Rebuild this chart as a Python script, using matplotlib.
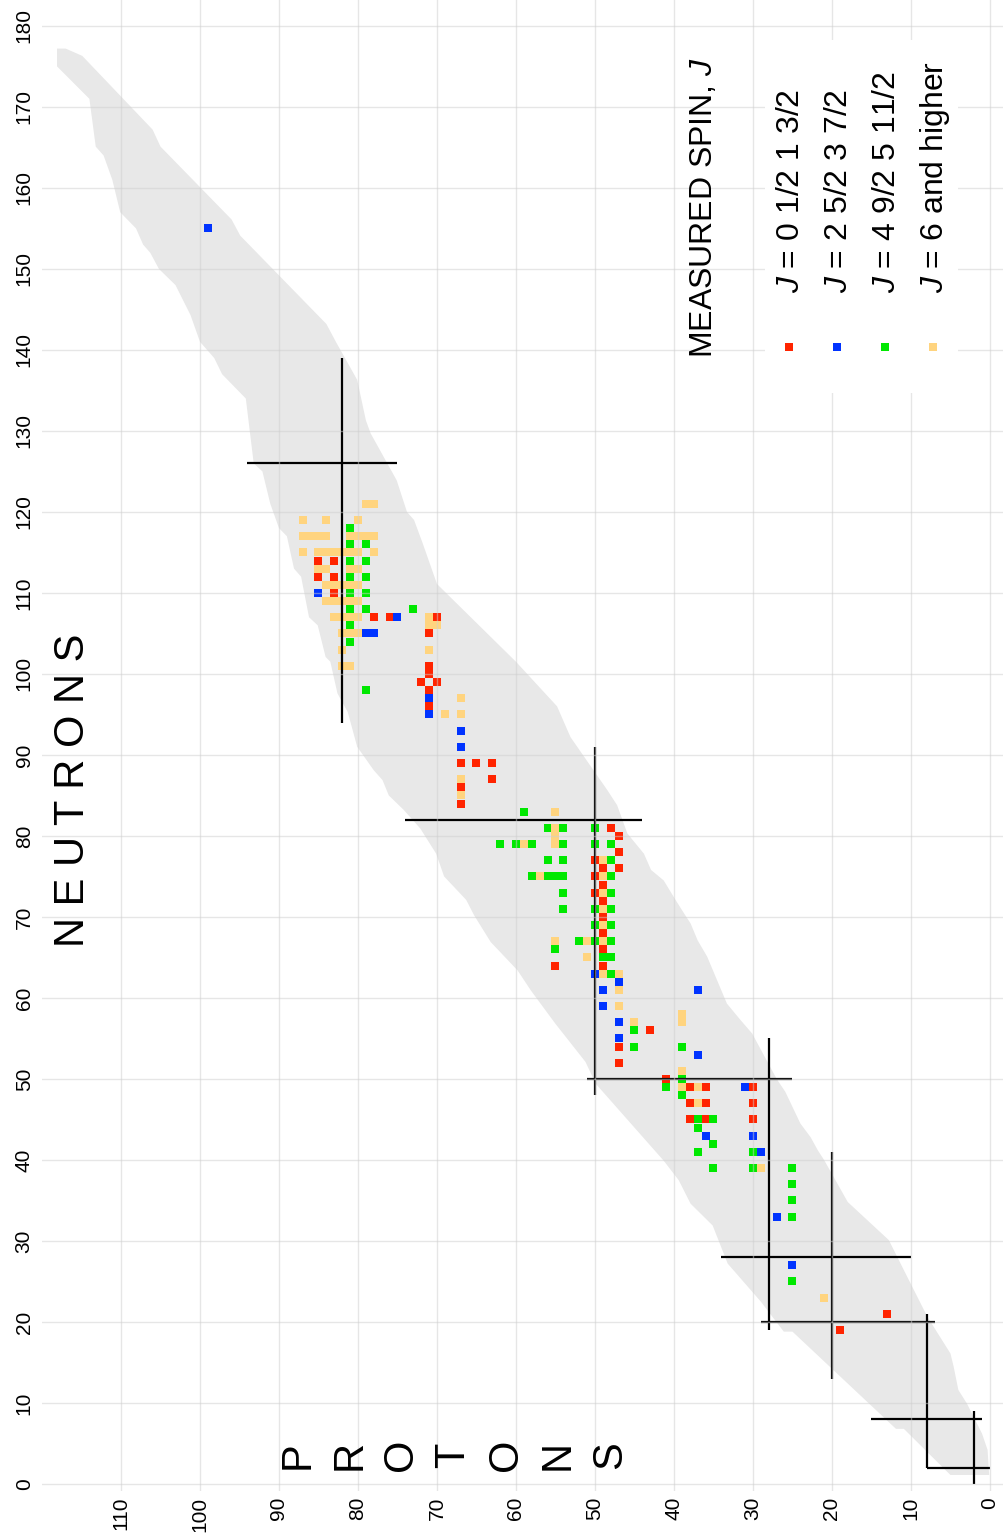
import matplotlib.pyplot as plt
from matplotlib.patches import Polygon, Rectangle

plt.rcParams['font.family'] = ['Liberation Sans', 'DejaVu Sans']
plt.rcParams['mathtext.fontset'] = 'custom'
plt.rcParams['mathtext.rm'] = 'Liberation Sans'
plt.rcParams['mathtext.it'] = 'Liberation Sans:italic'

# nuclide landscape outline as (protons, neutrons): neutron-rich edge going down, then proton-rich edge going up
band_outline = [
    (118.1, 177.2), (117.0, 177.2), (114.9, 176.3), (106.0, 167.2), (105.0, 165.1),
    (96.0, 156.1), (94.9, 154.1), (84.0, 143.2), (82.8, 141.0), (80.1, 136.3),
    (79.0, 131.3), (78.4, 129.7), (75.1, 123.9), (73.8, 120.0), (72.9, 119.0),
    (71.8, 116.1), (70.0, 111.1), (60.0, 101.5), (54.8, 96.0), (53.1, 92.2),
    (48.4, 85.6), (47.2, 83.8), (45.9, 80.3), (43.8, 77.8), (42.9, 75.8),
    (41.3, 74.5), (39.8, 72.1), (38.7, 70.4), (37.9, 69.2), (37.0, 67.1),
    (35.8, 65.1), (33.3, 59.3), (31.6, 57.3), (30.1, 55.6), (27.0, 50.0),
    (25.9, 48.4), (24.0, 44.5), (22.7, 42.8), (21.8, 41.2), (21.0, 40.0),
    (18.0, 34.8), (12.8, 30.1), (10.9, 26.4), (7.9, 20.6), (5.0, 16.1),
    (4.6, 14.5), (4.0, 11.6), (2.9, 9.9), (1.0, 6.2), (0.3, 4.2), (0.1, 1.1),
    (5.0, 1.1), (10.9, 6.8), (11.9, 6.8), (25.0, 18.8), (26.1, 18.8),
    (29.0, 22.5), (33.2, 27.2), (35.1, 31.9), (37.9, 34.6), (39.4, 37.5),
    (41.3, 39.9), (49.9, 49.4), (51.2, 52.1), (55.0, 56.8), (58.1, 60.9),
    (59.8, 63.4), (63.2, 66.9), (65.3, 70.2), (66.3, 72.1), (69.1, 75.0),
    (70.1, 77.8), (72.1, 80.9), (74.2, 83.2), (76.1, 85.0), (76.9, 86.9),
    (78.0, 88.1), (80.1, 91.0), (81.3, 95.3), (82.6, 97.6), (83.5, 101.5),
    (84.1, 102.1), (85.1, 106.0), (86.2, 107.0), (87.2, 112.0), (88.1, 113.0),
    (89.0, 117.0), (90.0, 118.0), (91.1, 121.0), (92.1, 125.0), (93.2, 126.0),
    (94.2, 134.0), (97.2, 137.0), (98.2, 139.0), (100.0, 141.0), (101.2, 144.3),
    (103.1, 148.0), (105.2, 150.0), (106.3, 152.0), (107.2, 153.0), (108.1, 155.0),
    (110.1, 157.0), (111.1, 161.0), (112.2, 164.0), (113.2, 165.1), (114.0, 171.0),
    (118.1, 175.0),
]

# magic numbers: (magic number, start, end) of each line
magic_z = [(2, 0, 9), (8, 2, 21), (20, 13, 41), (28, 19, 55), (50, 48, 91), (82, 94, 139)]
magic_n = [(2, 0, 8), (8, 1, 15), (20, 7, 29), (28, 10, 34), (50, 25, 51), (82, 44, 74), (126, 75, 94)]

# measured spins, (Z, N) per group
spin_low = [  # J = 0, 1/2, 1, 3/2
    (85, 114), (83, 114), (85, 112), (83, 112), (83, 110),
    (78, 107), (76, 107), (70, 107), (71, 105), (71, 101), (71, 100),
    (72, 99), (70, 99), (71, 98), (71, 96),
    (67, 89), (65, 89), (63, 89), (63, 87), (67, 86), (67, 84),
    (48, 81), (47, 80), (47, 78), (50, 77), (49, 76), (47, 76), (50, 75),
    (49, 74), (50, 73), (49, 72), (49, 70), (49, 68), (49, 66), (55, 64), (49, 64),
    (43, 56), (47, 54), (47, 52), (41, 50),
    (38, 49), (36, 49), (30, 49), (38, 47), (36, 47), (30, 47), (38, 45), (36, 45), (30, 45),
    (13, 21), (19, 19),
]
spin_mid = [  # J = 2, 5/2, 3, 7/2
    (99, 155), (85, 110), (75, 107), (79, 105), (78, 105), (71, 97), (71, 95),
    (67, 93), (67, 91), (50, 63), (47, 62), (49, 61), (37, 61), (49, 59),
    (47, 57), (47, 55), (37, 53), (31, 49), (36, 43), (30, 43), (29, 41),
    (27, 33), (25, 27),
]
spin_high = [  # J = 4, 9/2, 5, 11/2
    (81, 118), (81, 116), (79, 116), (81, 114), (79, 114), (81, 112), (79, 112),
    (81, 110), (79, 110), (81, 108), (79, 108), (73, 108), (81, 106), (81, 104), (79, 98),
    (59, 83), (56, 81), (54, 81), (50, 81),
    (62, 79), (60, 79), (58, 79), (54, 79), (50, 79), (48, 79),
    (56, 77), (54, 77), (48, 77), (58, 75), (56, 75), (55, 75), (54, 75), (48, 75),
    (54, 73), (48, 73), (54, 71), (50, 71), (48, 71), (50, 69), (48, 69),
    (52, 67), (50, 67), (48, 67), (55, 66), (49, 65), (48, 65), (48, 63),
    (45, 56), (45, 54), (39, 54), (39, 50), (41, 49), (39, 48),
    (37, 45), (35, 45), (37, 44), (35, 42), (37, 41), (30, 41),
    (35, 39), (30, 39), (25, 39), (25, 37), (25, 35), (25, 33), (25, 25),
]
spin_top = [  # J = 6 and higher
    (79, 121), (78, 121), (87, 119), (84, 119), (80, 119),
    (87, 117), (86, 117), (85, 117), (84, 117), (81, 117), (80, 117), (79, 117), (78, 117),
    (87, 115), (85, 115), (84, 115), (83, 115), (82, 115), (81, 115), (80, 115), (78, 115),
    (85, 113), (84, 113), (81, 113), (80, 113),
    (84, 111), (83, 111), (82, 111), (81, 111), (80, 111),
    (84, 109), (83, 109), (82, 109), (81, 109), (80, 109),
    (83, 107), (82, 107), (81, 107), (80, 107), (71, 107), (71, 106), (70, 106),
    (82, 105), (81, 105), (80, 105), (82, 103), (71, 103), (82, 101), (81, 101),
    (67, 97), (69, 95), (67, 95), (67, 87), (67, 85),
    (55, 83), (55, 81), (55, 80), (59, 79), (55, 79), (49, 77), (57, 75), (49, 75),
    (49, 73), (49, 71), (49, 69), (55, 67), (51, 67), (49, 67), (51, 65),
    (49, 63), (47, 63), (47, 61), (47, 59), (39, 58), (45, 57), (39, 57), (39, 51),
    (39, 49), (37, 49), (37, 47), (29, 39), (21, 23),
]

groups = [
    (spin_low, '#ff2400', r'$J$ = 0 1/2 1 3/2'),
    (spin_mid, '#0033ff', r'$J$ = 2 5/2 3 7/2'),
    (spin_high, '#00e800', r'$J$ = 4 9/2 5 11/2'),
    (spin_top, '#ffd47f', r'$J$ = 6 and higher'),
]

fig = plt.figure(figsize=(10.05, 15.34), dpi=100)
ax = fig.add_axes([0.0418, 0.0279, 0.9558, 0.9721])

ax.add_patch(Polygon(band_outline, closed=True, facecolor='#e8e8e8', edgecolor='none', zorder=1))

for pts, color, label in groups:
    zs = [p[0] for p in pts]
    ns = [p[1] for p in pts]
    ax.plot(zs, ns, 's', ms=5.3, mew=0, color=color, zorder=2)

for m, lo, hi in magic_z:
    ax.plot([m, m], [lo, hi], color='black', lw=1.6, zorder=2.2, solid_capstyle='butt')
for m, lo, hi in magic_n:
    ax.plot([lo, hi], [m, m], color='black', lw=1.6, zorder=2.2, solid_capstyle='butt')

ax.set_xlim(120, -1.6)
ax.set_ylim(-0.9, 183.2)
ax.set_xticks(range(0, 111, 10))
ax.set_yticks(range(0, 181, 10))
ax.set_axisbelow(False)
ax.grid(True, color='#cfcfcf', alpha=0.5, lw=1.0)
for s in ax.spines.values():
    s.set_visible(False)
ax.tick_params(axis='both', length=0, labelsize=15, labelcolor='black')
ax.tick_params(axis='x', labelrotation=90, pad=4)
ax.tick_params(axis='y', labelrotation=90, pad=6)
for lab in ax.get_yticklabels():
    lab.set_verticalalignment('center')

# legend, drawn sideways
ax.add_patch(Rectangle((0.7527, 0.7365), 0.2009, 0.2367, transform=ax.transAxes,
                       facecolor='white', edgecolor='none', zorder=3))
ax.text(0.689, 0.760, r'MEASURED SPIN, $J$', transform=ax.transAxes, rotation=90,
        ha='center', va='bottom', fontsize=23, zorder=4)
leg_x = [0.7787, 0.8287, 0.8786, 0.9286]
for (pts, color, label), lx in zip(groups, leg_x):
    ax.text(lx + 0.001, 0.8035, label, transform=ax.transAxes, rotation=90,
            ha='center', va='bottom', fontsize=23, zorder=4)
    ax.plot([lx - 0.001], [0.7673], 's', ms=6, mew=0, color=color,
            transform=ax.transAxes, zorder=4)

ax.text(0.032, 0.470, 'N E U T R O N S', transform=ax.transAxes, rotation=90,
        ha='center', va='center', fontsize=30)
ax.text(0.4284, 0.0243, '\n'.join('PROTONS'), transform=ax.transAxes, rotation=90,
        ha='center', va='center', multialignment='center', fontsize=30, linespacing=1.39)

fig.savefig('out.png', dpi=100)
